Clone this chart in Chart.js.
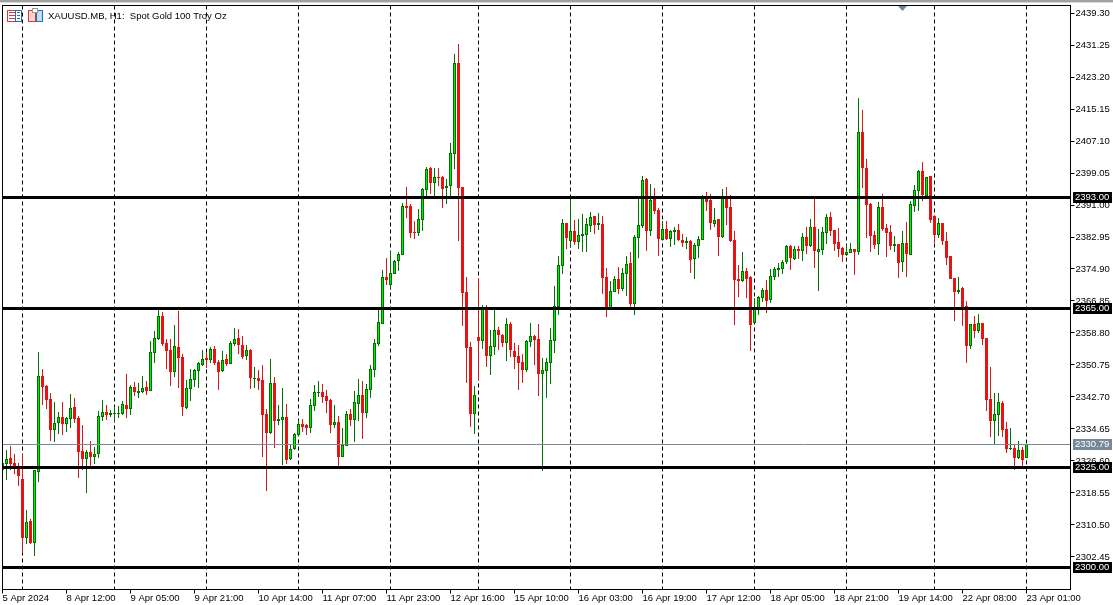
<!DOCTYPE html>
<html>
<head>
<meta charset="utf-8">
<title>XAUUSD.MB H1</title>
<style>
html, body { margin: 0; padding: 0; background: #fff; overflow: hidden; }
canvas { display: block; }
</style>
<script src="https://cdn.jsdelivr.net/npm/chart.js@4"></script>
</head>
<body>
<canvas id="goldChart" width="1113" height="605"></canvas>
<script>
const opens = [
2324.30,2325.84,2327.35,2326.10,2324.67,2322.07,2307.31,2311.51,2306.06,2323.92,
2347.98,2345.47,2342.20,2334.40,2336.16,2337.67,2335.91,2337.16,2340.18,2337.42,
2329.11,2327.10,2328.86,2327.61,2328.36,2337.67,2338.93,2338.25,2338.34,2338.51,
2338.42,2340.69,2339.68,2345.21,2343.70,2343.96,2345.21,2344.21,2353.77,2357.29,
2363.07,2356.28,2354.52,2348.99,2355.28,2352.76,2339.93,2344.71,2346.98,2349.24,
2350.75,2352.51,2352.01,2354.77,2351.50,2349.24,2352.26,2351.00,2356.03,2357.54,
2355.78,2353.01,2354.52,2347.23,2347.48,2346.98,2338.42,2333.64,2346.22,2336.75,
2336.92,2337.67,2327.11,2329.54,2333.14,2335.91,2335.66,2334.90,2340.44,2343.79,
2343.96,2342.95,2341.95,2335.66,2336.41,2327.61,2330.38,2338.43,2336.92,2340.94,
2343.21,2338.68,2344.46,2349.49,2356.03,2361.07,2372.89,2370.88,2373.64,2376.91,
2378.42,2390.75,2390.75,2384.21,2383.96,2387.23,2394.77,2400.31,2396.53,2398.04,
2398.04,2395.28,2395.78,2403.83,2426.72,2395.53,2369.11,2355.28,2338.43,2357.79,
2356.78,2365.09,2353.01,2355.28,2359.55,2358.29,2356.28,2361.06,2354.27,2353.01,
2351.50,2349.49,2356.53,2358.04,2357.29,2348.48,2349.24,2351.25,2356.78,2365.34,
2375.65,2386.47,2381.94,2384.46,2381.69,2383.20,2383.45,2385.71,2388.23,2385.96,
2386.22,2372.88,2365.09,2369.11,2372.38,2369.87,2373.64,2376.41,2366.09,2382.69,
2385.71,2397.54,2384.46,2392.50,2389.74,2382.19,2384.96,2382.44,2384.20,2384.71,
2382.19,2381.44,2381.94,2377.41,2380.68,2382.28,2392.93,2392.26,2386.22,2387.48,
2382.95,2392.93,2390.50,2382.20,2372.39,2371.88,2374.40,2372.89,2361.32,2365.09,
2367.61,2369.62,2367.10,2372.89,2374.74,2374.90,2376.66,2380.69,2377.42,2379.93,
2379.43,2382.95,2380.69,2385.47,2379.18,2379.68,2383.96,2387.98,2384.71,2381.69,
2380.19,2378.42,2378.93,2379.93,2379.18,2409.36,2400.31,2391.25,2383.46,2381.19,
2390.50,2385.22,2384.21,2380.69,2381.19,2376.67,2381.45,2378.43,2390.75,2394.53,
2399.56,2393.27,2398.30,2388.24,2383.46,2386.48,2381.95,2378.18,2372.64,2369.12,
2370.13,2365.60,2355.54,2361.07,2359.31,2361.32,2357.55,2342.20,2336.67,2338.18,
2341.20,2334.66,2329.54,2329.88,2327.36,2329.38,2327.36
];
const highs = [
2326.20,2329.37,2330.37,2328.36,2326.01,2328.36,2314.27,2312.01,2324.34,2354.02,
2349.74,2345.63,2343.70,2341.44,2338.93,2341.44,2337.67,2343.45,2342.45,2337.92,
2335.66,2329.37,2331.63,2330.12,2339.18,2341.94,2340.69,2339.43,2340.18,2340.43,
2341.69,2348.48,2345.72,2346.47,2346.22,2347.98,2346.72,2356.79,2359.30,2364.58,
2364.08,2357.29,2357.29,2360.81,2364.33,2353.52,2346.98,2349.74,2349.74,2351.50,
2354.52,2354.02,2355.28,2355.53,2352.01,2354.27,2353.52,2356.79,2360.06,2359.80,
2358.04,2355.78,2354.77,2350.25,2349.49,2350.75,2339.68,2352.26,2347.73,2340.69,
2344.97,2340.94,2330.88,2333.56,2336.92,2337.17,2335.91,2342.20,2345.72,2346.73,
2345.97,2344.46,2342.20,2340.69,2337.92,2334.90,2339.10,2339.68,2344.21,2347.23,
2346.73,2345.97,2350.75,2357.29,2364.59,2374.65,2377.67,2379.43,2377.16,2379.18,
2391.50,2395.53,2391.25,2386.98,2389.99,2395.28,2400.56,2400.56,2400.31,2400.31,
2398.29,2397.54,2406.59,2428.98,2431.50,2395.53,2372.89,2356.54,2345.47,2372.63,
2365.84,2365.84,2359.55,2364.58,2360.31,2358.55,2362.57,2361.56,2356.28,2355.78,
2353.51,2357.04,2361.31,2358.29,2361.06,2352.51,2352.51,2360.06,2370.62,2378.17,
2387.47,2386.47,2392.76,2387.22,2387.47,2388.73,2387.73,2389.23,2388.23,2388.98,
2388.23,2375.15,2371.88,2373.14,2375.40,2375.15,2378.17,2379.17,2383.45,2392.50,
2398.29,2397.79,2396.28,2395.27,2390.24,2386.97,2386.97,2384.71,2385.46,2386.22,
2383.70,2382.95,2382.19,2381.44,2383.20,2393.52,2394.27,2393.77,2390.25,2387.48,
2395.03,2395.53,2393.52,2384.46,2375.91,2379.18,2375.15,2373.14,2367.61,2368.11,
2370.12,2372.14,2374.90,2375.41,2376.41,2377.17,2380.94,2380.94,2380.69,2380.69,
2383.96,2385.47,2387.48,2392.68,2384.96,2385.47,2388.74,2389.24,2384.71,2385.22,
2380.44,2380.94,2381.44,2379.93,2417.92,2414.90,2402.57,2391.50,2384.46,2391.76,
2393.77,2386.22,2385.97,2383.20,2381.19,2384.46,2386.73,2392.01,2396.04,2399.81,
2401.82,2398.05,2398.30,2388.24,2387.73,2386.48,2384.21,2378.18,2372.64,2372.89,
2370.38,2366.86,2361.07,2363.08,2363.59,2361.32,2357.55,2350.25,2343.71,2343.71,
2341.70,2336.42,2334.91,2330.88,2331.64,2330.13,2330.79
];
const lows = [
2317.40,2321.82,2324.34,2323.33,2320.31,2303.54,2305.72,2305.72,2302.70,2321.32,
2340.69,2339.68,2331.63,2331.38,2333.39,2333.14,2333.89,2334.90,2336.16,2322.32,
2324.34,2318.55,2325.17,2325.84,2327.35,2336.66,2336.91,2337.67,2336.41,2337.42,
2338.17,2337.42,2338.17,2342.95,2342.45,2343.70,2343.20,2344.21,2351.25,2357.04,
2355.53,2349.74,2345.47,2347.73,2344.96,2337.92,2339.68,2341.69,2345.21,2344.96,
2350.50,2349.99,2351.25,2350.75,2344.46,2348.99,2350.50,2351.00,2355.53,2353.52,
2352.26,2352.01,2344.71,2344.96,2344.46,2327.61,2319.05,2333.39,2329.87,2335.66,
2325.60,2325.85,2326.85,2329.37,2332.89,2333.90,2333.14,2333.65,2339.18,2342.70,
2341.19,2338.68,2333.65,2334.90,2325.18,2327.61,2330.38,2335.41,2331.38,2336.67,
2332.14,2337.42,2342.45,2347.73,2355.53,2361.07,2370.88,2369.62,2373.64,2374.40,
2378.42,2387.73,2382.70,2382.45,2383.20,2384.46,2393.26,2393.77,2393.26,2395.78,
2390.24,2391.25,2393.26,2400.05,2381.94,2360.56,2346.22,2335.16,2333.40,2346.97,
2354.77,2350.24,2348.23,2353.26,2354.52,2355.28,2351.75,2352.76,2349.74,2344.46,
2346.22,2348.99,2355.28,2350.75,2342.95,2324.08,2342.45,2345.97,2353.77,2363.33,
2373.64,2379.93,2380.18,2380.93,2379.93,2379.17,2379.17,2384.20,2383.70,2384.71,
2368.61,2362.82,2365.09,2369.11,2368.61,2369.36,2368.10,2365.09,2363.33,2377.66,
2385.21,2379.42,2383.20,2388.73,2378.17,2382.19,2382.19,2380.43,2380.93,2381.94,
2380.43,2379.93,2373.89,2372.38,2377.66,2382.28,2389.49,2384.71,2385.47,2378.17,
2382.70,2385.97,2381.69,2360.82,2367.86,2371.63,2367.61,2354.28,2361.32,2363.33,
2366.60,2363.83,2366.35,2372.14,2372.89,2373.64,2376.16,2374.65,2377.17,2377.42,
2376.91,2378.68,2380.44,2375.15,2369.37,2378.42,2381.19,2383.20,2379.43,2377.92,
2376.66,2378.17,2378.93,2373.39,2378.42,2395.28,2382.70,2379.18,2379.93,2378.42,
2384.46,2377.92,2379.68,2379.18,2372.64,2374.15,2372.89,2378.43,2389.24,2389.50,
2392.01,2393.10,2386.48,2381.45,2382.70,2380.94,2375.91,2372.39,2361.82,2368.62,
2360.57,2351.26,2354.78,2357.55,2358.81,2355.79,2339.19,2332.65,2330.88,2332.90,
2332.65,2328.62,2329.38,2324.34,2327.11,2325.35,2327.36
];
const closes = [
2326.00,2327.02,2325.84,2324.67,2322.91,2307.31,2311.25,2305.97,2324.34,2347.98,
2345.30,2341.94,2334.40,2336.16,2337.67,2335.91,2337.42,2339.93,2337.16,2328.86,
2327.10,2328.86,2327.61,2328.36,2337.92,2338.93,2338.17,2338.59,2338.59,2338.59,
2340.94,2339.68,2345.21,2343.96,2344.21,2344.96,2344.21,2354.02,2357.54,2363.07,
2356.03,2354.27,2348.99,2355.53,2352.51,2340.18,2344.96,2347.23,2349.49,2351.25,
2352.26,2352.01,2354.77,2351.25,2348.99,2352.01,2351.00,2356.28,2357.29,2355.78,
2352.76,2354.52,2347.48,2347.48,2346.72,2338.17,2333.64,2346.22,2336.66,2337.08,
2337.67,2326.85,2329.62,2333.40,2335.91,2335.16,2334.90,2340.69,2343.96,2343.96,
2342.70,2341.70,2335.66,2336.41,2327.61,2330.63,2338.43,2336.92,2341.44,2343.21,
2338.68,2344.72,2349.75,2356.29,2361.57,2372.89,2372.13,2373.89,2376.91,2378.67,
2390.75,2390.25,2383.96,2383.96,2387.48,2395.02,2400.06,2396.53,2398.04,2397.88,
2395.02,2395.78,2404.08,2426.72,2395.28,2368.86,2355.03,2338.43,2343.21,2356.78,
2365.25,2353.01,2355.53,2359.55,2358.29,2356.28,2361.06,2354.52,2352.76,2351.25,
2349.49,2356.78,2358.04,2357.04,2348.48,2349.49,2351.50,2357.04,2365.59,2375.90,
2386.47,2382.69,2384.46,2381.69,2383.45,2383.70,2386.22,2387.98,2385.96,2386.47,
2372.63,2365.09,2369.36,2372.38,2369.87,2373.89,2376.15,2366.09,2382.95,2385.96,
2397.28,2384.46,2392.25,2389.49,2382.44,2384.96,2382.44,2384.46,2384.71,2382.19,
2381.44,2381.94,2377.16,2380.93,2382.44,2392.76,2391.76,2386.47,2387.23,2382.95,
2392.93,2390.25,2381.95,2372.14,2371.88,2374.40,2372.39,2360.82,2365.01,2367.86,
2369.62,2366.85,2373.14,2374.90,2375.15,2376.66,2380.69,2377.67,2379.93,2379.43,
2382.95,2380.69,2385.47,2379.43,2379.93,2384.21,2387.98,2384.46,2381.19,2379.93,
2378.42,2379.18,2379.93,2379.18,2409.36,2400.31,2391.00,2383.20,2380.94,2390.50,
2384.96,2383.96,2380.69,2381.19,2376.41,2381.45,2378.68,2391.26,2394.78,2399.56,
2393.52,2398.05,2387.23,2383.46,2386.48,2381.95,2377.67,2372.39,2369.12,2369.62,
2365.10,2355.54,2361.07,2359.31,2361.32,2357.30,2341.95,2336.67,2338.43,2341.45,
2334.41,2329.63,2329.88,2327.36,2329.38,2326.86,2330.79
];

const tickLabels = ["5 Apr 2024","8 Apr 12:00","9 Apr 05:00","9 Apr 21:00","10 Apr 14:00","11 Apr 07:00",
    "11 Apr 23:00","12 Apr 16:00","15 Apr 10:00","16 Apr 03:00","16 Apr 19:00","17 Apr 12:00",
    "18 Apr 05:00","18 Apr 21:00","19 Apr 14:00","22 Apr 08:00","23 Apr 01:00"];
const tickEvery = 16;
const emptyBarsRight = 11;
const separatorBars = [5,28,51,74,97,119,142,165,188,211,233,256];
const priceTicks = [2439.30,2431.25,2423.20,2415.15,2407.10,2399.05,2391.00,2382.95,2374.90,2366.85,
    2358.80,2350.75,2342.70,2334.65,2326.60,2318.55,2310.50,2302.45];
const levels = [2393,2365,2325,2300];
const lastPrice = 2330.79;
const title = "XAUUSD.MB, H1:  Spot Gold 100 Troy Oz";

const FONT = "9.5px 'Liberation Sans', sans-serif";
const GREEN_EDGE = "#007000";
const GREEN_FILL = "#00f000";
const RED = "#e81212";
const RED_WICK = "#d41a1a";

const labels = [];
for (let i = 0; i < closes.length + emptyBarsRight; i++) {
    labels.push(i % tickEvery === 0 && tickLabels[i / tickEvery] ? tickLabels[i / tickEvery] : "");
}
const isUp = closes.map((c, i) => c >= opens[i]);

// bars land on whole pixels, that is how the terminal draws them
const snapBars = {
    id: "snapBars",
    afterDatasetsUpdate(chart) {
        chart.getSortedVisibleDatasetMetas().forEach(meta => {
            meta.data.forEach(bar => {
                const top = Math.round(Math.min(bar.y, bar.base));
                let bottom = Math.round(Math.max(bar.y, bar.base));
                if (bottom <= top) bottom = top + 1;
                bar.y = top;
                bar.base = bottom;
                bar.height = bottom - top;
            });
        });
    }
};

function priceBox(ctx, y, text, color) {
    ctx.fillStyle = color;
    ctx.fillRect(1073, y - 5, 39, 11);
    ctx.fillStyle = "#fff";
    ctx.textAlign = "left";
    ctx.textBaseline = "middle";
    ctx.fillText(text, 1075, y + 0.5);
}

const terminalDecor = {
    id: "terminalDecor",
    beforeDatasetsDraw(chart) {
        const { ctx, chartArea, scales } = chart;
        ctx.save();
        ctx.strokeStyle = "#000";
        ctx.lineWidth = 1;
        ctx.setLineDash([4, 3]);
        separatorBars.forEach(i => {
            const x = scales.x.getPixelForValue(i);
            ctx.beginPath();
            ctx.moveTo(x, chartArea.top);
            ctx.lineTo(x, chartArea.bottom);
            ctx.stroke();
        });
        ctx.restore();
    },
    afterDraw(chart) {
        const { ctx, chartArea, scales } = chart;
        const { left, right, top, bottom } = chartArea;
        ctx.save();
        ctx.font = FONT;

        // last price
        const lastY = Math.round(scales.y.getPixelForValue(lastPrice)) + 0.5;
        ctx.strokeStyle = "#778899";
        ctx.lineWidth = 1;
        ctx.beginPath();
        ctx.moveTo(left, lastY);
        ctx.lineTo(right, lastY);
        ctx.stroke();
        priceBox(ctx, Math.floor(lastY), lastPrice.toFixed(2), "#778899");

        // horizontal levels
        levels.forEach(level => {
            const y = Math.round(scales.y.getPixelForValue(level)) + 0.5;
            ctx.strokeStyle = "#000";
            ctx.lineWidth = 3;
            ctx.beginPath();
            ctx.moveTo(left, y);
            ctx.lineTo(right, y);
            ctx.stroke();
            priceBox(ctx, Math.floor(y), level.toFixed(2), "#000");
        });

        // frame
        ctx.strokeStyle = "#000";
        ctx.lineWidth = 1;
        ctx.strokeRect(left, top, right - left, bottom - top);

        // window edge
        ctx.fillStyle = "#a0a0a0";
        ctx.fillRect(0, 0, 1113, 2);
        ctx.fillStyle = "#d8d8d8";
        ctx.fillRect(0, 2, 1113, 1);

        // one click trading marker
        ctx.fillStyle = "#708499";
        ctx.beginPath();
        ctx.moveTo(898, 6);
        ctx.lineTo(907, 6);
        ctx.lineTo(902.5, 11);
        ctx.closePath();
        ctx.fill();

        // symbol icons
        ctx.lineWidth = 1;
        ctx.strokeStyle = "#d83a3a";
        ctx.strokeRect(7.5, 10.5, 8, 11);
        ctx.fillStyle = "#d83a3a";
        [12, 15, 18].forEach(y => ctx.fillRect(9, y, 6, 1));
        ctx.strokeStyle = "#1f6fb0";
        ctx.strokeRect(15.5, 10.5, 6, 11);
        ctx.fillStyle = "#1f6fb0";
        [12, 15, 18].forEach(y => ctx.fillRect(17, y, 3, 1));
        ctx.strokeStyle = "#d83a3a";
        ctx.fillStyle = "#fbd4d0";
        ctx.fillRect(28.5, 10.5, 7, 11);
        ctx.strokeRect(28.5, 10.5, 7, 11);
        ctx.strokeStyle = "#1f6fb0";
        ctx.fillStyle = "#bfe0f5";
        ctx.fillRect(36.5, 10.5, 6, 11);
        ctx.strokeRect(36.5, 10.5, 6, 11);
        ctx.fillStyle = "#fff";
        ctx.strokeStyle = "#9a9a9a";
        ctx.fillRect(32.5, 8.5, 5, 4);
        ctx.strokeRect(32.5, 8.5, 5, 4);

        // heading
        ctx.fillStyle = "#000";
        ctx.textAlign = "left";
        ctx.textBaseline = "middle";
        ctx.fillText(title, 48, 16.5);
        ctx.restore();
    }
};

new Chart(document.getElementById("goldChart"), {
    type: "bar",
    plugins: [snapBars, terminalDecor],
    data: {
        labels: labels,
        datasets: [{
            label: "Wick",
            data: highs.map((h, i) => [lows[i], h]),
            backgroundColor: isUp.map(up => up ? GREEN_EDGE : RED_WICK),
            borderWidth: 0,
            barThickness: 1,
            inflateAmount: 0,
            order: 2
        }, {
            label: "Body",
            data: opens.map((o, i) => [Math.min(o, closes[i]), Math.max(o, closes[i])]),
            backgroundColor: isUp.map(up => up ? GREEN_FILL : RED),
            borderColor: isUp.map(up => up ? GREEN_EDGE : RED),
            borderWidth: 1,
            borderSkipped: false,
            barThickness: 3,
            inflateAmount: 0,
            order: 1
        }]
    },
    options: {
        responsive: false,
        animation: false,
        layout: { padding: { left: 2.5, top: 5.5, right: 0, bottom: 0 } },
        plugins: {
            legend: { display: false },
            tooltip: { enabled: false },
            title: { display: false }
        },
        scales: {
            x: {
                type: "category",
                offset: false,
                grid: { drawOnChartArea: false, drawTicks: true, tickLength: 4, color: "#000", offset: false },
                border: { display: false },
                ticks: {
                    autoSkip: false,
                    maxRotation: 0,
                    minRotation: 0,
                    align: "start",
                    padding: -1,
                    color: "#000",
                    font: { family: "'Liberation Sans', sans-serif", size: 9.5 }
                },
                afterBuildTicks(scale) {
                    scale.ticks = scale.ticks.filter(t => labels[t.value] !== "");
                },
                afterFit(scale) {
                    scale.height = 15.5;
                    scale.paddingLeft = 0;
                    scale.paddingRight = 0;
                }
            },
            y: {
                position: "right",
                min: 2294.27,
                max: 2441.19,
                grid: { drawOnChartArea: false, drawTicks: true, tickLength: 4, color: "#000" },
                border: { display: false },
                ticks: {
                    padding: 1,
                    color: "#000",
                    font: { family: "'Liberation Sans', sans-serif", size: 9.5 },
                    callback: value => value.toFixed(2)
                },
                afterBuildTicks(scale) {
                    scale.ticks = priceTicks.map(value => ({ value }));
                },
                afterFit(scale) {
                    scale.width = 42.5;
                    scale.paddingTop = 0;
                    scale.paddingBottom = 0;
                }
            }
        },
        datasets: { bar: { grouped: false } }
    }
});
</script>
</body>
</html>
